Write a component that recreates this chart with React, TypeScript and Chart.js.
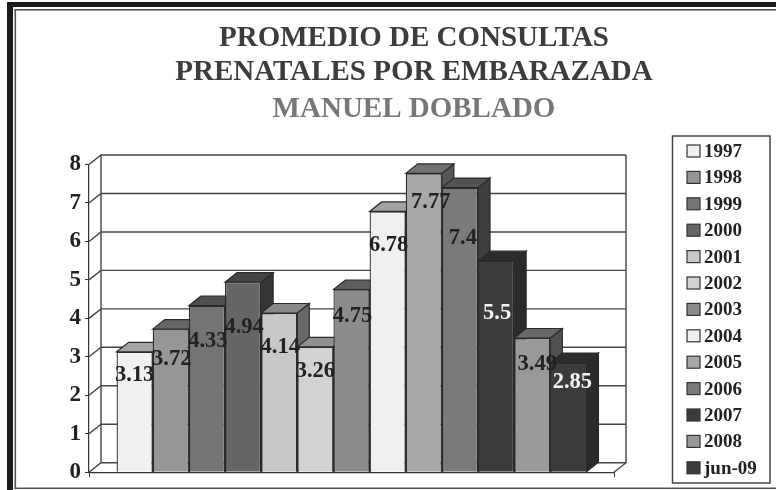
import React, { useEffect, useRef } from "react";
import { Chart, registerables, layouts } from "chart.js";

Chart.register(...registerables);

const seriesNames = ["1997", "1998", "1999", "2000", "2001", "2002", "2003", "2004", "2005", "2006", "2007", "2008", "jun-09"];
const seriesValues = [3.13, 3.72, 4.33, 4.94, 4.14, 3.26, 4.75, 6.78, 7.77, 7.4, 5.5, 3.49, 2.85];
const seriesColors = ["#f0f0f0", "#969696", "#747474", "#666666", "#c8c8c8", "#d2d2d2", "#8c8c8c", "#f0f0f0", "#a8a8a8", "#7a7a7a", "#3c3c3c", "#999999", "#3c3c3c"];
const labelColors = ["#222", "#222", "#222", "#222", "#222", "#222", "#222", "#222", "#222", "#222", "#f4f4f4", "#222", "#f4f4f4"];
const labelLevels = [2.53, 2.94, 3.41, 3.77, 3.24, 2.63, 4.05, 5.9, 7.02, 6.08, 4.13, 2.82, 2.35];
const labelNudges = [0, 1, 1, 1, 1, 0, 1, 1, 7, 3, 1, 5, 4];
const yTicks = [0, 1, 2, 3, 4, 5, 6, 7, 8];
const titleLines = ["PROMEDIO DE CONSULTAS", "PRENATALES POR EMBARAZADA"];
const subtitleLine = "MANUEL DOBLADO";

const FONT = "'Liberation Serif', serif";
const DX = 12;
const DY = -9.5;

function shade(hex: string, light: number, dark: number) {
  const n = parseInt(hex.slice(1), 16);
  const k = (n & 255) < 0x50 ? dark : light;
  const f = (v: number) => Math.round(v * k);
  return `rgb(${f((n >> 16) & 255)},${f((n >> 8) & 255)},${f(n & 255)})`;
}

function poly(ctx: CanvasRenderingContext2D, pts: number[][], fill: string) {
  ctx.beginPath();
  pts.forEach((p, i) => (i ? ctx.lineTo(p[0], p[1]) : ctx.moveTo(p[0], p[1])));
  ctx.closePath();
  ctx.fillStyle = fill;
  ctx.fill();
  ctx.stroke();
}

const frame3d = {
  id: "frame3d",
  beforeInit(chart: any) {
    layouts.addBox(chart, {
      position: "right",
      weight: 1000,
      fullSize: false,
      options: {},
      width: 162,
      height: 0,
      isHorizontal() {
        return false;
      },
      update(_w: number, h: number) {
        this.width = 162;
        this.height = h;
      },
      draw() {
        const ctx = chart.ctx as CanvasRenderingContext2D;
        ctx.save();
        ctx.strokeStyle = "#444";
        ctx.lineWidth = 1.5;
        ctx.strokeRect(672.5, 136, 97.5, 347);
        ctx.font = `bold 19px ${FONT}`;
        ctx.textBaseline = "middle";
        ctx.textAlign = "left";
        seriesNames.forEach((name, i) => {
          const y = 151 + i * 26.4;
          ctx.fillStyle = seriesColors[i];
          ctx.strokeStyle = "#333";
          ctx.lineWidth = 1.2;
          ctx.fillRect(687, y - 6, 13, 12);
          ctx.strokeRect(687, y - 6, 13, 12);
          ctx.fillStyle = "#222";
          ctx.fillText(name, 704, y + 1);
        });
        ctx.restore();
      },
    });
  },
  beforeDraw(chart: any) {
    const ctx = chart.ctx as CanvasRenderingContext2D;
    ctx.save();
    ctx.fillStyle = "#fff";
    ctx.fillRect(0, 0, chart.width, chart.height);
    ctx.fillStyle = "#1c1c1c";
    ctx.fillRect(7, 2, 769, 5);
    ctx.fillRect(7, 2, 6, 488);
    ctx.fillStyle = "#555";
    ctx.fillRect(14.5, 9, 762, 1.6);
    ctx.fillRect(14.5, 9, 1.6, 480);
    ctx.fillRect(14.5, 487.5, 762, 1.6);
    ctx.restore();
  },
  beforeDatasetsDraw(chart: any) {
    const ctx = chart.ctx as CanvasRenderingContext2D;
    const { left, right, bottom, top } = chart.chartArea;
    const yScale = chart.scales.y;
    ctx.save();
    ctx.strokeStyle = "#444";
    ctx.lineWidth = 1.4;
    ctx.beginPath();
    yTicks.forEach((t) => {
      const y = yScale.getPixelForValue(t);
      ctx.moveTo(left, y);
      ctx.lineTo(left + DX, y + DY);
      ctx.lineTo(right + DX, y + DY);
    });
    ctx.moveTo(left + DX, bottom + DY);
    ctx.lineTo(left + DX, top + DY);
    ctx.moveTo(right + DX, top + DY);
    ctx.lineTo(right + DX, bottom + DY);
    ctx.lineTo(right, bottom);
    ctx.stroke();
    ctx.strokeStyle = "#2a2a2a";
    ctx.lineWidth = 1.2;
    chart.data.datasets.forEach((ds: any, i: number) => {
      const bar = chart.getDatasetMeta(i).data[0];
      const x0 = bar.x - bar.width / 2;
      const x1 = bar.x + bar.width / 2;
      const yT = bar.y;
      const yB = bar.base;
      const c = ds.backgroundColor as string;
      poly(ctx, [[x1, yT], [x1 + DX, yT + DY], [x1 + DX, yB + DY], [x1, yB]], shade(c, 0.52, 0.72));
      poly(ctx, [[x0, yT], [x0 + DX, yT + DY], [x1 + DX, yT + DY], [x1, yT]], shade(c, 0.68, 0.75));
    });
    ctx.restore();
  },
  afterDatasetsDraw(chart: any) {
    const ctx = chart.ctx as CanvasRenderingContext2D;
    const yScale = chart.scales.y;
    ctx.save();
    ctx.font = `bold 22.5px ${FONT}`;
    ctx.textAlign = "center";
    ctx.textBaseline = "middle";
    seriesValues.forEach((v, i) => {
      const bar = chart.getDatasetMeta(i).data[0];
      ctx.fillStyle = labelColors[i];
      ctx.fillText(String(v), bar.x + labelNudges[i], yScale.getPixelForValue(labelLevels[i]));
    });
    ctx.restore();
  },
};

export default function App() {
  const ref = useRef<HTMLCanvasElement>(null);
  useEffect(() => {
    const chart = new Chart(ref.current as HTMLCanvasElement, {
      type: "bar",
      data: {
        labels: [""],
        datasets: seriesNames.map((name, i) => ({
          label: name,
          data: [seriesValues[i]],
          backgroundColor: seriesColors[i],
          borderColor: "#2a2a2a",
          borderWidth: 1.3,
          categoryPercentage: 0.895,
          barPercentage: 1,
        })),
      },
      options: {
        responsive: false,
        animation: false,
        layout: { padding: { left: 52, right: 0, top: 0, bottom: 11 } },
        plugins: {
          legend: { display: false },
          tooltip: { enabled: false },
          title: {
            display: true,
            text: titleLines,
            color: "#3c3c3c",
            font: { family: FONT, size: 29, weight: "bold", lineHeight: 1.19 },
            padding: { top: 21, bottom: 0 },
          },
          subtitle: {
            display: true,
            text: subtitleLine,
            color: "#777",
            font: { family: FONT, size: 29, weight: "bold", lineHeight: 1.19 },
            padding: { top: 2, bottom: 38 },
          },
        },
        scales: {
          x: {
            grid: { drawOnChartArea: false, drawTicks: true, tickLength: 5, color: "#333", offset: true },
            border: { color: "#333", width: 1.2 },
            ticks: { display: false },
          },
          y: {
            min: 0,
            max: 8,
            afterFit(s: any) {
              s.width = 37;
            },
            afterBuildTicks(s: any) {
              s.ticks = yTicks.map((value) => ({ value }));
            },
            grid: { drawOnChartArea: false, drawTicks: true, tickLength: 4, color: "#333" },
            border: { color: "#333", width: 1.2 },
            ticks: {
              color: "#222",
              padding: 4,
              font: { family: FONT, size: 23, weight: "bold" },
            },
          },
        },
      },
      plugins: [frame3d],
    } as any);
    return () => chart.destroy();
  }, []);
  return (
    <canvas
      ref={ref}
      width={776}
      height={490}
      style={{ position: "fixed", left: 0, top: 0, display: "block", width: 776, height: 490 }}
    />
  );
}
